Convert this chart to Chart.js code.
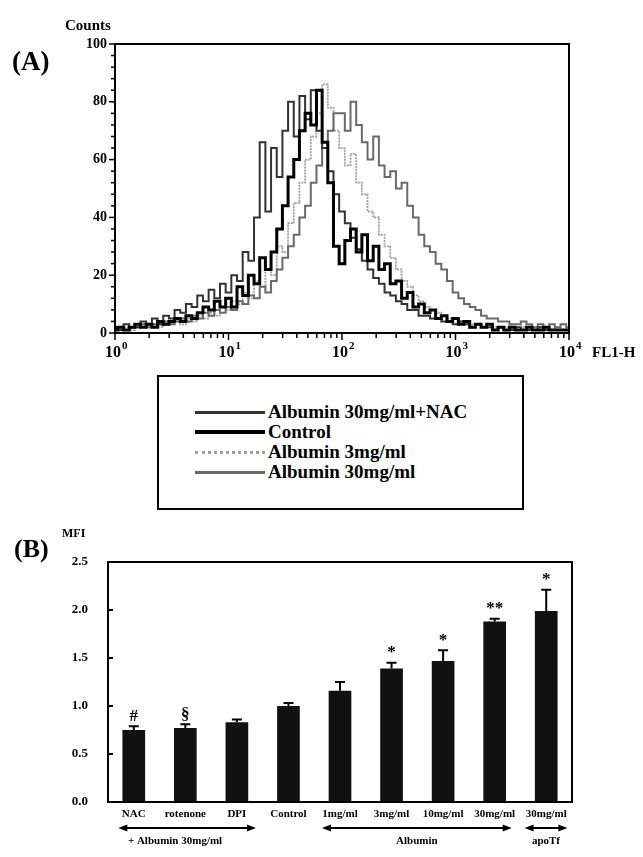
<!DOCTYPE html>
<html>
<head>
<meta charset="utf-8">
<script src="https://cdn.jsdelivr.net/npm/chart.js@4.4.1/dist/chart.umd.min.js"></script>
<style>
  body { margin:0; background:#fff; width:643px; height:857px; position:relative; overflow:hidden;
         font-family:"Liberation Serif","DejaVu Serif",serif; font-weight:bold; color:#000; }
  .lbl { position:absolute; white-space:nowrap; line-height:1; }
  #boxA { position:absolute; left:0; top:0; width:643px; height:370px; }
  #boxB { position:absolute; left:0; top:520px; width:643px; height:337px; }
  #legend { position:absolute; left:157px; top:375px; width:363px; height:131px; border:2px solid #000; }
  .item { position:absolute; left:36px; height:20px; display:flex; align-items:center; font-size:19px; white-space:nowrap; }
  .sw { width:70px; margin-right:3px; }
</style>
</head>
<body>
<div id="boxA"><canvas id="histA"></canvas></div>
<div class="lbl" style="left:12px;top:48px;font-size:27px">(A)</div>
<div class="lbl" style="left:65px;top:18px;font-size:15px">Counts</div>
<div class="lbl" style="left:592px;top:345px;font-size:15px">FL1-H</div>
<div id="legend"></div>
<div id="boxB"><canvas id="barB"></canvas></div>
<div class="lbl" style="left:14px;top:536px;font-size:26px">(B)</div>
<div class="lbl" style="left:62px;top:527px;font-size:12px">MFI</div>

<script>
// ---- panel A : FL1-H histograms (x in log10 units) ----
const fl1Log = [0,0.05,0.1,0.15,0.2,0.25,0.3,0.35,0.4,0.45,
  0.5,0.55,0.6,0.65,0.7,0.75,0.8,0.85,0.9,0.95,
  1,1.05,1.1,1.15,1.2,1.25,1.3,1.35,1.4,1.45,
  1.5,1.55,1.6,1.65,1.7,1.75,1.8,1.85,1.9,1.95,
  2,2.05,2.1,2.15,2.2,2.25,2.3,2.35,2.4,2.45,
  2.5,2.55,2.6,2.65,2.7,2.75,2.8,2.85,2.9,2.95,
  3,3.05,3.1,3.15,3.2,3.25,3.3,3.35,3.4,3.45,
  3.5,3.55,3.6,3.65,3.7,3.75,3.8,3.85,3.9,3.95,4];

const histNames = ['Albumin 30mg/ml+NAC', 'Control', 'Albumin 3mg/ml', 'Albumin 30mg/ml'];

const countsNac = [2,1,3,2,2,4,3,5,3,6,
  5,8,7,10,9,13,11,15,12,17,
  14,20,18,28,25,40,66,42,64,54,
  70,80,68,82,74,84,70,64,56,48,
  42,38,33,29,25,22,19,17,14,13,
  11,10,8,8,6,6,5,5,4,4,
  3,4,3,2,3,2,2,1,2,1,
  1,2,1,1,1,2,1,1,1,1,1];

const countsControl = [1,2,1,2,3,2,3,2,4,3,
  4,5,4,6,5,7,9,8,11,9,
  12,9,16,13,20,17,26,22,28,36,
  44,54,60,70,76,72,84,66,52,30,
  24,32,36,28,34,25,30,22,24,17,
  18,12,14,9,10,7,8,5,6,4,
  5,3,4,2,3,2,3,1,2,1,
  2,1,1,2,1,1,2,1,1,1,1];

const countsAlb3 = [1,2,2,1,3,2,2,3,2,3,
  3,4,3,5,4,6,5,7,6,9,
  8,11,10,14,12,18,16,22,20,30,
  28,38,45,52,60,68,76,86,78,70,
  64,58,62,52,48,42,40,34,30,26,
  22,18,16,13,11,9,8,7,6,5,
  5,4,4,3,3,2,3,2,2,2,
  2,1,2,1,1,2,1,1,2,1,1];

const countsAlb30 = [1,2,1,2,2,3,2,3,3,4,
  3,4,5,4,6,5,7,6,8,7,
  9,8,11,10,13,12,16,14,18,22,
  26,30,34,40,44,52,58,64,70,76,
  76,70,80,72,66,60,68,58,54,56,
  50,52,44,40,34,30,28,24,22,18,
  14,12,10,9,8,6,5,5,4,4,
  3,3,4,3,2,3,2,3,2,3,2];

const decadeTicks = [0, 1, 2, 3, 4];

// ---- panel B : MFI ----
const mfiLabels = ['NAC', 'rotenone', 'DPI', 'Control', '1mg/ml', '3mg/ml', '10mg/ml', '30mg/ml', '30mg/ml'];
const mfiValues = [0.75, 0.77, 0.83, 1.00, 1.16, 1.39, 1.47, 1.88, 1.99];
const mfiErrTop = [0.79, 0.81, 0.86, 1.03, 1.25, 1.45, 1.58, 1.91, 2.21];
const mfiMarks  = ['#', '§', '', '', '', '*', '*', '**', '*'];
const groupLabels = ['+ Albumin 30mg/ml', 'Albumin', 'apoTf'];
const groupFrom = [-0.3, 3.65, 7.58];
const groupTo   = [2.37, 7.33, 8.41];

const FONT = '"Liberation Serif","DejaVu Serif",serif';
const histStyle = [
  { color:'#333333', width:2, dash:[] },
  { color:'#000000', width:3, dash:[] },
  { color:'#a0a0a0', width:1.8, dash:[2,1] },
  { color:'#6a6a6a', width:2, dash:[] }
];
const histSeries = [countsNac, countsControl, countsAlb3, countsAlb30];
const drawOrder = [2, 1, 4, 3];

// legend (html)
const leg = document.getElementById('legend');
histNames.forEach((n, i) => {
  const it = document.createElement('div');
  it.className = 'item';
  it.style.top = (25 + i * 20) + 'px';
  const s = histStyle[i];
  it.innerHTML = `<div class="sw" style="border-top:${i === 1 ? 4 : 3}px ${s.dash.length ? 'dotted' : 'solid'} ${s.color}"></div>${n}`;
  leg.appendChild(it);
});

const frameA = {
  id: 'frameA',
  afterDraw(chart) {
    const { ctx, chartArea: a, scales: { x, y } } = chart;
    ctx.save();
    ctx.strokeStyle = '#000';
    ctx.lineWidth = 2;
    ctx.strokeRect(a.left, a.top, a.right - a.left, a.bottom - a.top);
    ctx.lineWidth = 1.5;
    for (let d = 0; d < 4; d++) {
      for (let m = 1; m <= 9; m++) {
        const px = x.getPixelForValue(d + Math.log10(m));
        ctx.beginPath();
        ctx.moveTo(px, a.bottom);
        ctx.lineTo(px, a.bottom + (m === 1 ? 7 : 5));
        ctx.stroke();
      }
    }
    const pe = x.getPixelForValue(4);
    ctx.beginPath(); ctx.moveTo(pe, a.bottom); ctx.lineTo(pe, a.bottom + 7); ctx.stroke();
    // minor count ticks on the left
    for (let c = 0; c <= 100; c += 4) {
      const py = y.getPixelForValue(c);
      ctx.beginPath(); ctx.moveTo(a.left, py); ctx.lineTo(a.left - (c % 20 === 0 ? 6 : 4), py); ctx.stroke();
    }
    ctx.fillStyle = '#000';
    ctx.textBaseline = 'middle';
    decadeTicks.forEach(k => {
      const px = x.getPixelForValue(k);
      ctx.font = 'bold 16px ' + FONT;
      const w = ctx.measureText('10').width;
      ctx.textAlign = 'left';
      ctx.fillText('10', px - w / 2 - 2, a.bottom + 20);
      ctx.font = 'bold 11px ' + FONT;
      ctx.fillText(String(k), px + w / 2 - 1, a.bottom + 13);
    });
    ctx.restore();
  }
};

new Chart(document.getElementById('histA'), {
  type: 'line',
  data: {
    datasets: histSeries.map((arr, i) => ({
      label: histNames[i],
      data: fl1Log.map((v, j) => ({ x: v, y: arr[j] })),
      borderColor: histStyle[i].color,
      borderWidth: histStyle[i].width,
      borderDash: histStyle[i].dash,
      pointRadius: 0,
      stepped: 'middle',
      fill: false,
      order: drawOrder[i]
    }))
  },
  options: {
    responsive: true,
    maintainAspectRatio: false,
    animation: false,
    layout: { padding: { left: 0, right: 74, top: 44, bottom: 0 } },
    plugins: { legend: { display: false }, tooltip: { enabled: false } },
    scales: {
      x: {
        type: 'linear', min: 0, max: 4,
        ticks: { display: false },
        grid: { display: false },
        border: { display: false },
        afterFit: s => { s.height = 37; }
      },
      y: {
        min: 0, max: 100,
        ticks: {
          stepSize: 20,
          autoSkip: false,
          color: '#000',
          padding: 8,
          font: { family: FONT, size: 14, weight: 'bold' }
        },
        grid: { display: false, drawTicks: false },
        border: { display: false },
        afterFit: s => { s.width = 115; }
      }
    }
  },
  plugins: [frameA]
});

const extrasB = {
  id: 'extrasB',
  afterDatasetsDraw(chart) {
    const { ctx, scales: { x, y } } = chart;
    ctx.save();
    ctx.strokeStyle = '#000';
    ctx.fillStyle = '#000';
    ctx.lineWidth = 2;
    mfiValues.forEach((v, i) => {
      const px = x.getPixelForValue(i);
      const y0 = y.getPixelForValue(v);
      const y1 = y.getPixelForValue(mfiErrTop[i]);
      ctx.beginPath();
      ctx.moveTo(px, y0); ctx.lineTo(px, y1);
      ctx.moveTo(px - 5, y1); ctx.lineTo(px + 5, y1);
      ctx.stroke();
      if (mfiMarks[i]) {
        ctx.font = 'bold 17px ' + FONT;
        ctx.textAlign = 'center';
        ctx.textBaseline = 'middle';
        ctx.fillText(mfiMarks[i], px, y1 - 10);
      }
    });
    ctx.restore();
  },
  afterDraw(chart) {
    const { ctx, chartArea: a, scales: { x, y } } = chart;
    ctx.save();
    ctx.strokeStyle = '#000';
    ctx.fillStyle = '#000';
    ctx.lineWidth = 2;
    ctx.strokeRect(a.left, a.top, a.right - a.left, a.bottom - a.top);
    [0, 0.5, 1, 1.5, 2, 2.5].forEach(t => {
      const py = y.getPixelForValue(t);
      ctx.beginPath(); ctx.moveTo(a.left, py); ctx.lineTo(a.left + 5, py); ctx.stroke();
    });
    const ay = a.bottom + 26, ty = a.bottom + 39;
    groupLabels.forEach((g, i) => {
      const x1 = x.getPixelForValue(groupFrom[i]);
      const x2 = x.getPixelForValue(groupTo[i]);
      ctx.lineWidth = 2;
      ctx.beginPath(); ctx.moveTo(x1 + 4, ay); ctx.lineTo(x2 - 4, ay); ctx.stroke();
      ctx.beginPath(); ctx.moveTo(x1, ay); ctx.lineTo(x1 + 9, ay - 3.5); ctx.lineTo(x1 + 9, ay + 3.5); ctx.closePath(); ctx.fill();
      ctx.beginPath(); ctx.moveTo(x2, ay); ctx.lineTo(x2 - 9, ay - 3.5); ctx.lineTo(x2 - 9, ay + 3.5); ctx.closePath(); ctx.fill();
      ctx.font = 'bold 11px ' + FONT;
      ctx.textAlign = 'center';
      ctx.textBaseline = 'middle';
      const cx = i === 0 ? x.getPixelForValue(0.8) : (x1 + x2) / 2;
      ctx.fillText(g, cx, ty);
    });
    ctx.restore();
  }
};

new Chart(document.getElementById('barB'), {
  type: 'bar',
  data: {
    labels: mfiLabels,
    datasets: [{
      data: mfiValues,
      backgroundColor: '#111',
      categoryPercentage: 1,
      barPercentage: 0.44
    }]
  },
  options: {
    responsive: true,
    maintainAspectRatio: false,
    animation: false,
    layout: { padding: { left: 0, right: 71, top: 42, bottom: 0 } },
    plugins: { legend: { display: false }, tooltip: { enabled: false } },
    scales: {
      x: {
        ticks: { color: '#000', padding: 6, maxRotation: 0, autoSkip: false,
                 font: { family: FONT, size: 11, weight: 'bold' } },
        grid: { display: false, drawTicks: false },
        border: { display: false },
        afterFit: s => { s.height = 55; }
      },
      y: {
        min: 0, max: 2.5,
        ticks: { stepSize: 0.5, color: '#000', padding: 20,
                 font: { family: FONT, size: 13, weight: 'bold' },
                 callback: v => v.toFixed(1) },
        grid: { display: false, drawTicks: false },
        border: { display: false },
        afterFit: s => { s.width = 108; }
      }
    }
  },
  plugins: [extrasB]
});
</script>
</body>
</html>
